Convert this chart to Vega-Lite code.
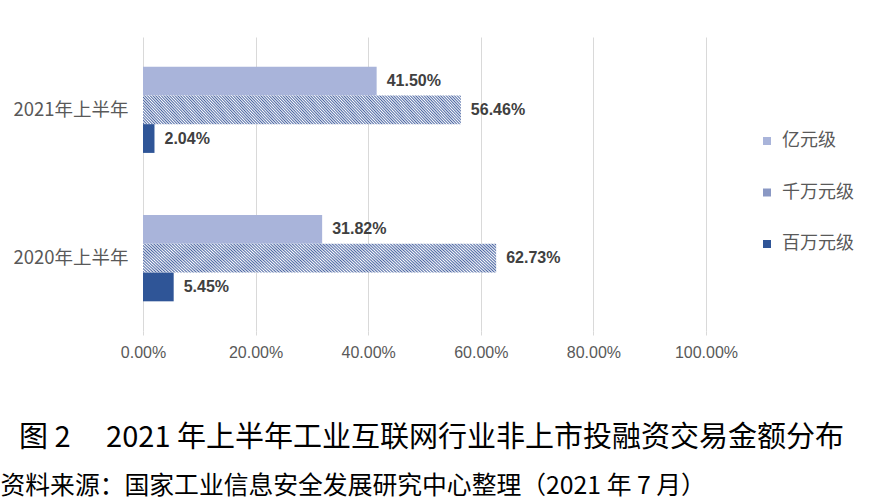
{
  "$schema": "https://vega.github.io/schema/vega-lite/v6.json",
  "width": 563,
  "height": 294,
  "autosize": {"type": "none"},
  "padding": {"left": 143, "top": 37, "right": 172, "bottom": 170},
  "background": "white",
  "config": {"view": {"stroke": null}, "font": "Noto Sans CJK SC"},
  "data": {
    "values": [
      {"period": "2021年上半年", "series": "亿元级", "value": 0.415},
      {"period": "2021年上半年", "series": "千万元级", "value": 0.5646},
      {"period": "2021年上半年", "series": "百万元级", "value": 0.0204},
      {"period": "2020年上半年", "series": "亿元级", "value": 0.3182},
      {"period": "2020年上半年", "series": "千万元级", "value": 0.6273},
      {"period": "2020年上半年", "series": "百万元级", "value": 0.0545}
    ]
  },
  "encoding": {
    "y": {
      "field": "period",
      "type": "nominal",
      "sort": ["2021年上半年", "2020年上半年"],
      "scale": {"paddingInner": 0.419, "paddingOuter": 0.2},
      "axis": {
        "title": "资料来源：国家工业信息安全发展研究中心整理（2021 年 7 月）",
        "titleAngle": 0,
        "titleX": -143,
        "titleY": 449,
        "titleAlign": "left",
        "titleBaseline": "middle",
        "titleFont": "Noto Sans CJK SC",
        "titleFontSize": 24.8,
        "titleFontWeight": "normal",
        "titleColor": "#000000",
        "labelFont": "Noto Sans CJK SC",
        "labelFontSize": 18.5,
        "labelColor": "#595959",
        "labelPadding": 15,
        "ticks": false,
        "domain": false
      }
    },
    "yOffset": {
      "field": "series",
      "type": "nominal",
      "sort": ["亿元级", "千万元级", "百万元级"],
      "scale": {"domain": ["亿元级", "千万元级", "百万元级"], "paddingInner": 0, "paddingOuter": 0}
    },
    "x": {
      "field": "value",
      "type": "quantitative",
      "scale": {"domain": [0, 1]},
      "axis": {
        "values": [0, 0.2, 0.4, 0.6, 0.8, 1],
        "format": ".2%",
        "grid": true,
        "gridColor": "#d9d9d9",
        "domain": false,
        "tickColor": "#d9d9d9",
        "tickSize": 4,
        "labelPadding": 9,
        "labelFlush": false,
        "labelFont": "Liberation Sans",
        "labelFontSize": 16,
        "labelColor": "#595959",
        "title": "图 2　 2021 年上半年工业互联网行业非上市投融资交易金额分布",
        "titleX": 288,
        "titleY": 106,
        "titleAlign": "center",
        "titleBaseline": "middle",
        "titleFont": "Noto Sans CJK SC",
        "titleFontSize": 29,
        "titleFontWeight": "normal",
        "titleColor": "#000000"
      }
    }
  },
  "layer": [
    {
      "mark": {"type": "bar"},
      "encoding": {
        "color": {
          "field": "series",
          "type": "nominal",
          "scale": {"domain": ["亿元级", "千万元级", "百万元级"], "range": ["#a9b4da", "#8a98c4", "#2f5597"]},
          "condition": {
            "test": "datum.series === '千万元级'",
            "value": {
              "gradient": "linear", "x1": -0.04, "y1": 0.5468, "x2": 1.04, "y2": 0.4532,
              "stops": [
                {"offset": 0, "color": "#fff"}, {"offset": 0.004, "color": "#4b66a3"}, {"offset": 0.008, "color": "#fff"}, {"offset": 0.012, "color": "#4b66a3"}, {"offset": 0.016, "color": "#fff"}, {"offset": 0.02, "color": "#4b66a3"}, {"offset": 0.024, "color": "#fff"}, {"offset": 0.028, "color": "#4b66a3"}, {"offset": 0.032, "color": "#fff"}, {"offset": 0.036, "color": "#4b66a3"},
                {"offset": 0.04, "color": "#fff"}, {"offset": 0.044, "color": "#4b66a3"}, {"offset": 0.048, "color": "#fff"}, {"offset": 0.052, "color": "#4b66a3"}, {"offset": 0.056, "color": "#fff"}, {"offset": 0.06, "color": "#4b66a3"}, {"offset": 0.064, "color": "#fff"}, {"offset": 0.068, "color": "#4b66a3"}, {"offset": 0.072, "color": "#fff"}, {"offset": 0.076, "color": "#4b66a3"},
                {"offset": 0.08, "color": "#fff"}, {"offset": 0.084, "color": "#4b66a3"}, {"offset": 0.088, "color": "#fff"}, {"offset": 0.092, "color": "#4b66a3"}, {"offset": 0.096, "color": "#fff"}, {"offset": 0.1, "color": "#4b66a3"}, {"offset": 0.104, "color": "#fff"}, {"offset": 0.108, "color": "#4b66a3"}, {"offset": 0.112, "color": "#fff"}, {"offset": 0.116, "color": "#4b66a3"},
                {"offset": 0.12, "color": "#fff"}, {"offset": 0.124, "color": "#4b66a3"}, {"offset": 0.128, "color": "#fff"}, {"offset": 0.132, "color": "#4b66a3"}, {"offset": 0.136, "color": "#fff"}, {"offset": 0.14, "color": "#4b66a3"}, {"offset": 0.144, "color": "#fff"}, {"offset": 0.148, "color": "#4b66a3"}, {"offset": 0.152, "color": "#fff"}, {"offset": 0.156, "color": "#4b66a3"},
                {"offset": 0.16, "color": "#fff"}, {"offset": 0.164, "color": "#4b66a3"}, {"offset": 0.168, "color": "#fff"}, {"offset": 0.172, "color": "#4b66a3"}, {"offset": 0.176, "color": "#fff"}, {"offset": 0.18, "color": "#4b66a3"}, {"offset": 0.184, "color": "#fff"}, {"offset": 0.188, "color": "#4b66a3"}, {"offset": 0.192, "color": "#fff"}, {"offset": 0.196, "color": "#4b66a3"},
                {"offset": 0.2, "color": "#fff"}, {"offset": 0.204, "color": "#4b66a3"}, {"offset": 0.208, "color": "#fff"}, {"offset": 0.212, "color": "#4b66a3"}, {"offset": 0.216, "color": "#fff"}, {"offset": 0.22, "color": "#4b66a3"}, {"offset": 0.224, "color": "#fff"}, {"offset": 0.228, "color": "#4b66a3"}, {"offset": 0.232, "color": "#fff"}, {"offset": 0.236, "color": "#4b66a3"},
                {"offset": 0.24, "color": "#fff"}, {"offset": 0.244, "color": "#4b66a3"}, {"offset": 0.248, "color": "#fff"}, {"offset": 0.252, "color": "#4b66a3"}, {"offset": 0.256, "color": "#fff"}, {"offset": 0.26, "color": "#4b66a3"}, {"offset": 0.264, "color": "#fff"}, {"offset": 0.268, "color": "#4b66a3"}, {"offset": 0.272, "color": "#fff"}, {"offset": 0.276, "color": "#4b66a3"},
                {"offset": 0.28, "color": "#fff"}, {"offset": 0.284, "color": "#4b66a3"}, {"offset": 0.288, "color": "#fff"}, {"offset": 0.292, "color": "#4b66a3"}, {"offset": 0.296, "color": "#fff"}, {"offset": 0.3, "color": "#4b66a3"}, {"offset": 0.304, "color": "#fff"}, {"offset": 0.308, "color": "#4b66a3"}, {"offset": 0.312, "color": "#fff"}, {"offset": 0.316, "color": "#4b66a3"},
                {"offset": 0.32, "color": "#fff"}, {"offset": 0.324, "color": "#4b66a3"}, {"offset": 0.328, "color": "#fff"}, {"offset": 0.332, "color": "#4b66a3"}, {"offset": 0.336, "color": "#fff"}, {"offset": 0.34, "color": "#4b66a3"}, {"offset": 0.344, "color": "#fff"}, {"offset": 0.348, "color": "#4b66a3"}, {"offset": 0.352, "color": "#fff"}, {"offset": 0.356, "color": "#4b66a3"},
                {"offset": 0.36, "color": "#fff"}, {"offset": 0.364, "color": "#4b66a3"}, {"offset": 0.368, "color": "#fff"}, {"offset": 0.372, "color": "#4b66a3"}, {"offset": 0.376, "color": "#fff"}, {"offset": 0.38, "color": "#4b66a3"}, {"offset": 0.384, "color": "#fff"}, {"offset": 0.388, "color": "#4b66a3"}, {"offset": 0.392, "color": "#fff"}, {"offset": 0.396, "color": "#4b66a3"},
                {"offset": 0.4, "color": "#fff"}, {"offset": 0.404, "color": "#4b66a3"}, {"offset": 0.408, "color": "#fff"}, {"offset": 0.412, "color": "#4b66a3"}, {"offset": 0.416, "color": "#fff"}, {"offset": 0.42, "color": "#4b66a3"}, {"offset": 0.424, "color": "#fff"}, {"offset": 0.428, "color": "#4b66a3"}, {"offset": 0.432, "color": "#fff"}, {"offset": 0.436, "color": "#4b66a3"},
                {"offset": 0.44, "color": "#fff"}, {"offset": 0.444, "color": "#4b66a3"}, {"offset": 0.448, "color": "#fff"}, {"offset": 0.452, "color": "#4b66a3"}, {"offset": 0.456, "color": "#fff"}, {"offset": 0.46, "color": "#4b66a3"}, {"offset": 0.464, "color": "#fff"}, {"offset": 0.468, "color": "#4b66a3"}, {"offset": 0.472, "color": "#fff"}, {"offset": 0.476, "color": "#4b66a3"},
                {"offset": 0.48, "color": "#fff"}, {"offset": 0.484, "color": "#4b66a3"}, {"offset": 0.488, "color": "#fff"}, {"offset": 0.492, "color": "#4b66a3"}, {"offset": 0.496, "color": "#fff"}, {"offset": 0.5, "color": "#4b66a3"}, {"offset": 0.504, "color": "#fff"}, {"offset": 0.508, "color": "#4b66a3"}, {"offset": 0.512, "color": "#fff"}, {"offset": 0.516, "color": "#4b66a3"},
                {"offset": 0.52, "color": "#fff"}, {"offset": 0.524, "color": "#4b66a3"}, {"offset": 0.528, "color": "#fff"}, {"offset": 0.532, "color": "#4b66a3"}, {"offset": 0.536, "color": "#fff"}, {"offset": 0.54, "color": "#4b66a3"}, {"offset": 0.544, "color": "#fff"}, {"offset": 0.548, "color": "#4b66a3"}, {"offset": 0.552, "color": "#fff"}, {"offset": 0.556, "color": "#4b66a3"},
                {"offset": 0.56, "color": "#fff"}, {"offset": 0.564, "color": "#4b66a3"}, {"offset": 0.568, "color": "#fff"}, {"offset": 0.572, "color": "#4b66a3"}, {"offset": 0.576, "color": "#fff"}, {"offset": 0.58, "color": "#4b66a3"}, {"offset": 0.584, "color": "#fff"}, {"offset": 0.588, "color": "#4b66a3"}, {"offset": 0.592, "color": "#fff"}, {"offset": 0.596, "color": "#4b66a3"},
                {"offset": 0.6, "color": "#fff"}, {"offset": 0.604, "color": "#4b66a3"}, {"offset": 0.608, "color": "#fff"}, {"offset": 0.612, "color": "#4b66a3"}, {"offset": 0.616, "color": "#fff"}, {"offset": 0.62, "color": "#4b66a3"}, {"offset": 0.624, "color": "#fff"}, {"offset": 0.628, "color": "#4b66a3"}, {"offset": 0.632, "color": "#fff"}, {"offset": 0.636, "color": "#4b66a3"},
                {"offset": 0.64, "color": "#fff"}, {"offset": 0.644, "color": "#4b66a3"}, {"offset": 0.648, "color": "#fff"}, {"offset": 0.652, "color": "#4b66a3"}, {"offset": 0.656, "color": "#fff"}, {"offset": 0.66, "color": "#4b66a3"}, {"offset": 0.664, "color": "#fff"}, {"offset": 0.668, "color": "#4b66a3"}, {"offset": 0.672, "color": "#fff"}, {"offset": 0.676, "color": "#4b66a3"},
                {"offset": 0.68, "color": "#fff"}, {"offset": 0.684, "color": "#4b66a3"}, {"offset": 0.688, "color": "#fff"}, {"offset": 0.692, "color": "#4b66a3"}, {"offset": 0.696, "color": "#fff"}, {"offset": 0.7, "color": "#4b66a3"}, {"offset": 0.704, "color": "#fff"}, {"offset": 0.708, "color": "#4b66a3"}, {"offset": 0.712, "color": "#fff"}, {"offset": 0.716, "color": "#4b66a3"},
                {"offset": 0.72, "color": "#fff"}, {"offset": 0.724, "color": "#4b66a3"}, {"offset": 0.728, "color": "#fff"}, {"offset": 0.732, "color": "#4b66a3"}, {"offset": 0.736, "color": "#fff"}, {"offset": 0.74, "color": "#4b66a3"}, {"offset": 0.744, "color": "#fff"}, {"offset": 0.748, "color": "#4b66a3"}, {"offset": 0.752, "color": "#fff"}, {"offset": 0.756, "color": "#4b66a3"},
                {"offset": 0.76, "color": "#fff"}, {"offset": 0.764, "color": "#4b66a3"}, {"offset": 0.768, "color": "#fff"}, {"offset": 0.772, "color": "#4b66a3"}, {"offset": 0.776, "color": "#fff"}, {"offset": 0.78, "color": "#4b66a3"}, {"offset": 0.784, "color": "#fff"}, {"offset": 0.788, "color": "#4b66a3"}, {"offset": 0.792, "color": "#fff"}, {"offset": 0.796, "color": "#4b66a3"},
                {"offset": 0.8, "color": "#fff"}, {"offset": 0.804, "color": "#4b66a3"}, {"offset": 0.808, "color": "#fff"}, {"offset": 0.812, "color": "#4b66a3"}, {"offset": 0.816, "color": "#fff"}, {"offset": 0.82, "color": "#4b66a3"}, {"offset": 0.824, "color": "#fff"}, {"offset": 0.828, "color": "#4b66a3"}, {"offset": 0.832, "color": "#fff"}, {"offset": 0.836, "color": "#4b66a3"},
                {"offset": 0.84, "color": "#fff"}, {"offset": 0.844, "color": "#4b66a3"}, {"offset": 0.848, "color": "#fff"}, {"offset": 0.852, "color": "#4b66a3"}, {"offset": 0.856, "color": "#fff"}, {"offset": 0.86, "color": "#4b66a3"}, {"offset": 0.864, "color": "#fff"}, {"offset": 0.868, "color": "#4b66a3"}, {"offset": 0.872, "color": "#fff"}, {"offset": 0.876, "color": "#4b66a3"},
                {"offset": 0.88, "color": "#fff"}, {"offset": 0.884, "color": "#4b66a3"}, {"offset": 0.888, "color": "#fff"}, {"offset": 0.892, "color": "#4b66a3"}, {"offset": 0.896, "color": "#fff"}, {"offset": 0.9, "color": "#4b66a3"}, {"offset": 0.904, "color": "#fff"}, {"offset": 0.908, "color": "#4b66a3"}, {"offset": 0.912, "color": "#fff"}, {"offset": 0.916, "color": "#4b66a3"},
                {"offset": 0.92, "color": "#fff"}, {"offset": 0.924, "color": "#4b66a3"}, {"offset": 0.928, "color": "#fff"}, {"offset": 0.932, "color": "#4b66a3"}, {"offset": 0.936, "color": "#fff"}, {"offset": 0.94, "color": "#4b66a3"}, {"offset": 0.944, "color": "#fff"}, {"offset": 0.948, "color": "#4b66a3"}, {"offset": 0.952, "color": "#fff"}, {"offset": 0.956, "color": "#4b66a3"},
                {"offset": 0.96, "color": "#fff"}, {"offset": 0.964, "color": "#4b66a3"}, {"offset": 0.968, "color": "#fff"}, {"offset": 0.972, "color": "#4b66a3"}, {"offset": 0.976, "color": "#fff"}, {"offset": 0.98, "color": "#4b66a3"}, {"offset": 0.984, "color": "#fff"}, {"offset": 0.988, "color": "#4b66a3"}, {"offset": 0.992, "color": "#fff"}, {"offset": 0.996, "color": "#4b66a3"},
                {"offset": 1, "color": "#fff"}
              ]
            }
          },
          "legend": {
            "orient": "none",
            "legendX": 615,
            "legendY": 95,
            "title": null,
            "padding": 0,
            "symbolType": "square",
            "symbolSize": 64,
            "symbolStrokeWidth": 0,
            "labelFont": "Noto Sans CJK SC",
            "labelFontSize": 18,
            "labelColor": "#595959",
            "labelOffset": 6,
            "rowPadding": 33.5,
            "encode": {
              "symbols": {
                "update": {
                  "fill": {
                    "condition": [
                      {"test": "datum.value === '亿元级'", "value": "#a9b4da"},
                      {"test": "datum.value === '千万元级'", "value": {
                        "gradient": "linear", "x1": 0, "y1": 1, "x2": 1, "y2": 0,
                        "stops": [
                          {"offset": 0, "color": "#fff"}, {"offset": 0.1, "color": "#4b66a3"}, {"offset": 0.2, "color": "#fff"}, {"offset": 0.3, "color": "#4b66a3"}, {"offset": 0.4, "color": "#fff"}, {"offset": 0.5, "color": "#4b66a3"}, {"offset": 0.6, "color": "#fff"}, {"offset": 0.7, "color": "#4b66a3"}, {"offset": 0.8, "color": "#fff"}, {"offset": 0.9, "color": "#4b66a3"}, {"offset": 1, "color": "#fff"}
                        ]
                      }}
                    ],
                    "value": "#2f5597"
                  }
                }
              }
            }
          }
        }
      }
    },
    {
      "mark": {"type": "text", "align": "left", "baseline": "middle", "dx": 10, "font": "Liberation Sans", "fontSize": 16, "fontWeight": "bold", "color": "#404040"},
      "encoding": {
        "text": {"field": "value", "type": "quantitative", "format": ".2%"}
      }
    }
  ]
}
